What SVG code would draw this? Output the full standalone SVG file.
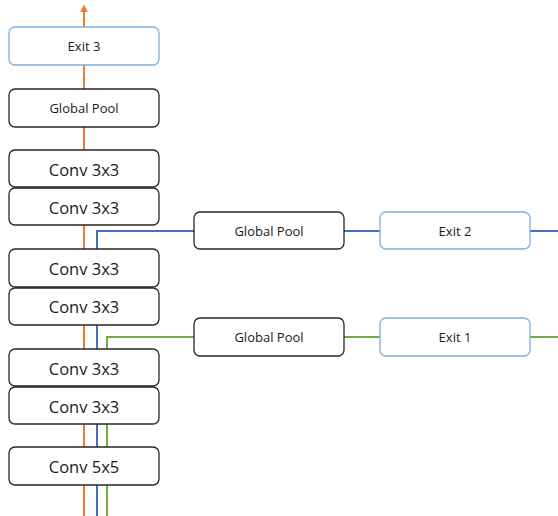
<svg xmlns="http://www.w3.org/2000/svg" width="558" height="516" viewBox="0 0 558 516">
<style>
.box{fill:#fff;stroke:#262626;stroke-width:1.3}
.exit{fill:#fff;stroke:#7EAEE0;stroke-width:1.3}
.big{font-family:"Open Sans","Noto Sans",sans-serif;font-size:16.5px;fill:#1a1a1a;text-anchor:middle;dominant-baseline:central}
.small{font-family:"Open Sans","Noto Sans",sans-serif;font-size:13px;fill:#1a1a1a;text-anchor:middle;dominant-baseline:central}
.or{stroke:#ED7D31;stroke-width:2;fill:none}
.bl{stroke:#4472C4;stroke-width:2;fill:none}
.gr{stroke:#70AD47;stroke-width:2;fill:none}
</style>
<defs>
<marker id="ah" viewBox="0 0 10 10" refX="8" refY="5" markerWidth="4" markerHeight="4" orient="auto">
<path d="M0,0 L10,5 L0,10 z" fill="#ED7D31"/>
</marker>
</defs>
<rect width="558" height="516" fill="#fff"/>
<g id="connectors">
<path class="or" d="M84,516 V6" marker-end="url(#ah)"/>
<path class="bl" d="M97,516 V231 H558"/>
<path class="gr" d="M107,516 V337 H558"/>
</g>
<g id="exit3"><rect class="exit" x="9" y="27" width="150" height="38" rx="6"/><text class="small" x="84" y="46">Exit 3</text></g>
<g id="pool3"><rect class="box" x="9" y="89" width="150" height="38" rx="6"/><text class="small" x="84" y="108">Global Pool</text></g>
<g id="conv6"><rect class="box" x="9" y="150" width="150" height="37" rx="6"/><text class="big" x="84" y="169">Conv 3x3</text></g>
<g id="conv5"><rect class="box" x="9" y="188" width="150" height="37" rx="6"/><text class="big" x="84" y="207">Conv 3x3</text></g>
<g id="conv4"><rect class="box" x="9" y="249" width="150" height="38" rx="6"/><text class="big" x="84" y="268">Conv 3x3</text></g>
<g id="conv3"><rect class="box" x="9" y="288" width="150" height="37" rx="6"/><text class="big" x="84" y="306">Conv 3x3</text></g>
<g id="conv2"><rect class="box" x="9" y="349" width="150" height="37" rx="6"/><text class="big" x="84" y="368">Conv 3x3</text></g>
<g id="conv1"><rect class="box" x="9" y="387" width="150" height="37" rx="6"/><text class="big" x="84" y="406">Conv 3x3</text></g>
<g id="conv0"><rect class="box" x="9" y="447" width="150" height="38" rx="6"/><text class="big" x="84" y="466">Conv 5x5</text></g>
<g id="pool2"><rect class="box" x="194" y="212" width="150" height="37" rx="6"/><text class="small" x="269" y="231">Global Pool</text></g>
<g id="exit2"><rect class="exit" x="380" y="212" width="150" height="37" rx="6"/><text class="small" x="455" y="231">Exit 2</text></g>
<g id="pool1"><rect class="box" x="194" y="318" width="150" height="38" rx="6"/><text class="small" x="269" y="337">Global Pool</text></g>
<g id="exit1"><rect class="exit" x="380" y="318" width="150" height="38" rx="6"/><text class="small" x="455" y="337">Exit 1</text></g>
</svg>
